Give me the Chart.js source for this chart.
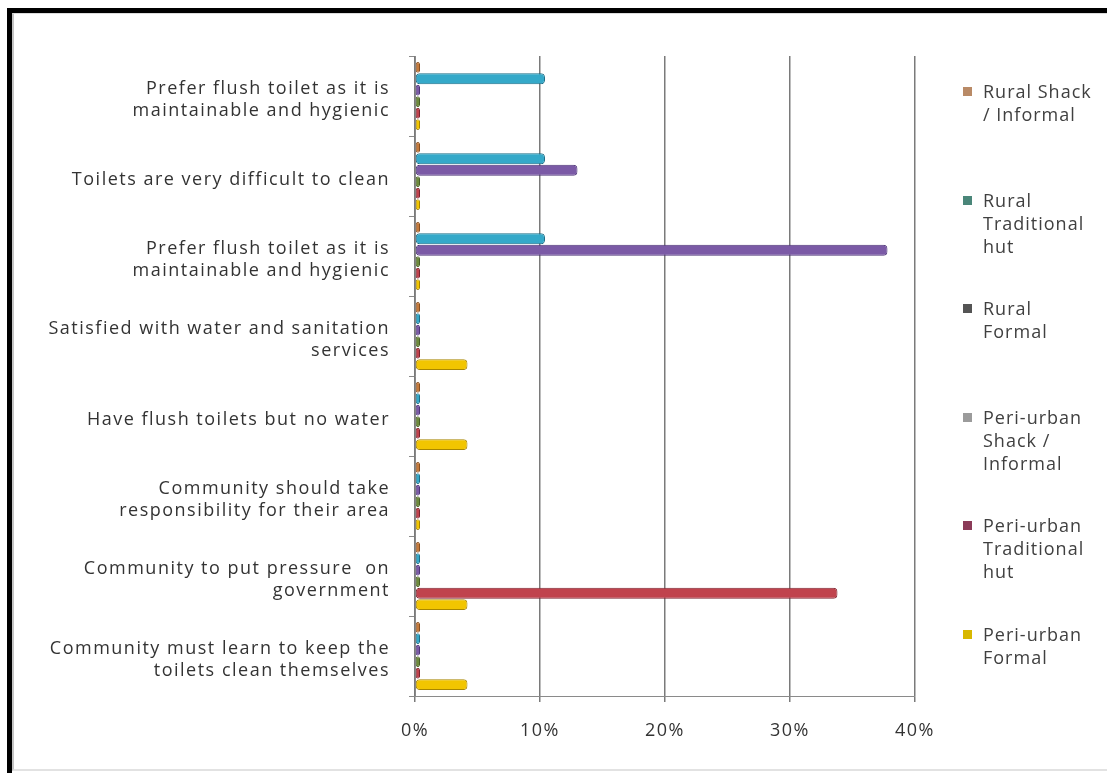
<!DOCTYPE html>
<html lang="en">
<head>
    <meta charset="UTF-8">
    <title>Toilet opinions by settlement type</title>
    <script src="https://cdn.jsdelivr.net/npm/chart.js"></script>
    <style>
        body {
            margin: 0;
            background: #fff;
            font-family: "Open Sans", sans-serif;
        }
        .frame {
            position: absolute;
            left: 7px;
            top: 8px;
            right: 0;
            bottom: 0;
            border-left: 5px solid #000;
            border-top: 5px solid #000;
        }
        .inner {
            position: absolute;
            left: 12px;
            top: 13px;
            right: 0;
            bottom: 2px;
            border-left: 2px solid #c4c4c4;
            border-top: 1px solid #dcdcdc;
            border-bottom: 2px solid #e2e2e2;
        }
        .chart-box {
            position: absolute;
            left: 0;
            top: 0;
            width: 1107px;
            height: 773px;
        }
        #legend {
            position: absolute;
            left: 963px;
            top: 80px;
            color: #404040;
            font-size: 18px;
            line-height: 23px;
            letter-spacing: 1px;
            white-space: nowrap;
        }
        .legend-item {
            position: relative;
            height: 108.6px;
            padding-left: 20px;
        }
        .legend-item span.swatch {
            position: absolute;
            left: 0;
            top: 7px;
            width: 9px;
            height: 9px;
        }
    </style>
</head>
<body>
    <div class="frame"></div>
    <div class="inner"></div>
    <div class="chart-box"><canvas id="chart"></canvas></div>
    <div id="legend"></div>

    <script>
        // categories, top to bottom
        const categories = [
            ['Prefer flush toilet as it is', 'maintainable and hygienic'],
            'Toilets are very difficult to clean',
            ['Prefer flush toilet as it is', 'maintainable and hygienic'],
            ['Satisfied with water and sanitation', 'services'],
            'Have flush toilets but no water',
            ['Community should take', 'responsibility for their area'],
            ['Community to put pressure  on', 'government'],
            ['Community must learn to keep the', 'toilets clean themselves']
        ];

        const seriesNames = [
            ['Rural Shack', '/ Informal'],
            ['Rural', 'Traditional', 'hut'],
            ['Rural', 'Formal'],
            ['Peri-urban', 'Shack /', 'Informal'],
            ['Peri-urban', 'Traditional', 'hut'],
            ['Peri-urban', 'Formal']
        ];

        // values in %
        const ruralShack        = [0, 0, 0, 0, 0, 0, 0, 0];
        const ruralTraditional  = [10.4, 10.4, 10.4, 0, 0, 0, 0, 0];
        const ruralFormal       = [0, 13.0, 37.8, 0, 0, 0, 0, 0];
        const periShack         = [0, 0, 0, 0, 0, 0, 0, 0];
        const periTraditional   = [0, 0, 0, 0, 0, 0, 33.8, 0];
        const periFormal        = [0, 0, 0, 4.2, 4.2, 0, 4.2, 4.2];

        const xTicks = [0, 10, 20, 30, 40];

        const seriesValues = [ruralShack, ruralTraditional, ruralFormal, periShack, periTraditional, periFormal];
        const barColors    = ['#c47a3c', '#35a9c9', '#7b5aa6', '#6e8b3d', '#c0434d', '#f2c500'];
        const barBorders   = ['#8a5020', '#1d6f88', '#4e3578', '#4a6025', '#7e2430', '#a88600'];
        const legendColors = ['#b98a66', '#4a8679', '#545454', '#9b9b9b', '#8b3b58', '#d8b800'];

        // stretched look of the original text
        const spacing = {
            id: 'spacing',
            beforeDraw(chart) {
                chart.ctx.letterSpacing = '1.5px';
            }
        };

        new Chart(document.getElementById('chart'), {
            type: 'bar',
            data: {
                labels: categories,
                datasets: seriesValues.map((vals, i) => ({
                    label: seriesNames[i].join(' '),
                    data: vals,
                    backgroundColor: barColors[i],
                    borderColor: barBorders[i],
                    borderWidth: 1,
                    borderRadius: 4,
                    borderSkipped: false,
                    minBarLength: 5,
                    barPercentage: 0.95,
                    categoryPercentage: 0.86
                }))
            },
            options: {
                indexAxis: 'y',
                responsive: true,
                maintainAspectRatio: false,
                animation: false,
                layout: {
                    padding: { top: 56, right: 192, bottom: 0, left: 0 }
                },
                plugins: {
                    legend: { display: false },
                    tooltip: { enabled: false }
                },
                scales: {
                    y: {
                        afterFit(scale) { scale.width = 415; },
                        grid: {
                            drawOnChartArea: false,
                            color: '#8a8a8a',
                            tickLength: 6
                        },
                        border: { color: '#8a8a8a', width: 1 },
                        ticks: {
                            padding: 19,
                            labelOffset: 4,
                            color: '#333',
                            font: { family: 'Open Sans', size: 18 }
                        }
                    },
                    x: {
                        min: xTicks[0],
                        max: xTicks[xTicks.length - 1],
                        afterFit(scale) { scale.height = 77; },
                        afterBuildTicks(scale) {
                            scale.ticks = xTicks.map(v => ({ value: v }));
                        },
                        grid: {
                            color: '#7a7a7a',
                            lineWidth: 1.5,
                            tickLength: 6
                        },
                        border: { color: '#8a8a8a', width: 1 },
                        ticks: {
                            padding: 18,
                            color: '#333',
                            font: { family: 'Open Sans', size: 18 },
                            callback: v => v + '%'
                        }
                    }
                }
            },
            plugins: [spacing]
        });

        // legend on the right
        const legend = document.getElementById('legend');
        seriesNames.forEach((lines, i) => {
            const item = document.createElement('div');
            item.className = 'legend-item';
            item.innerHTML = `<span class="swatch" style="background:${legendColors[i]}"></span>${lines.join('<br>')}`;
            legend.appendChild(item);
        });
    </script>
</body>
</html>
